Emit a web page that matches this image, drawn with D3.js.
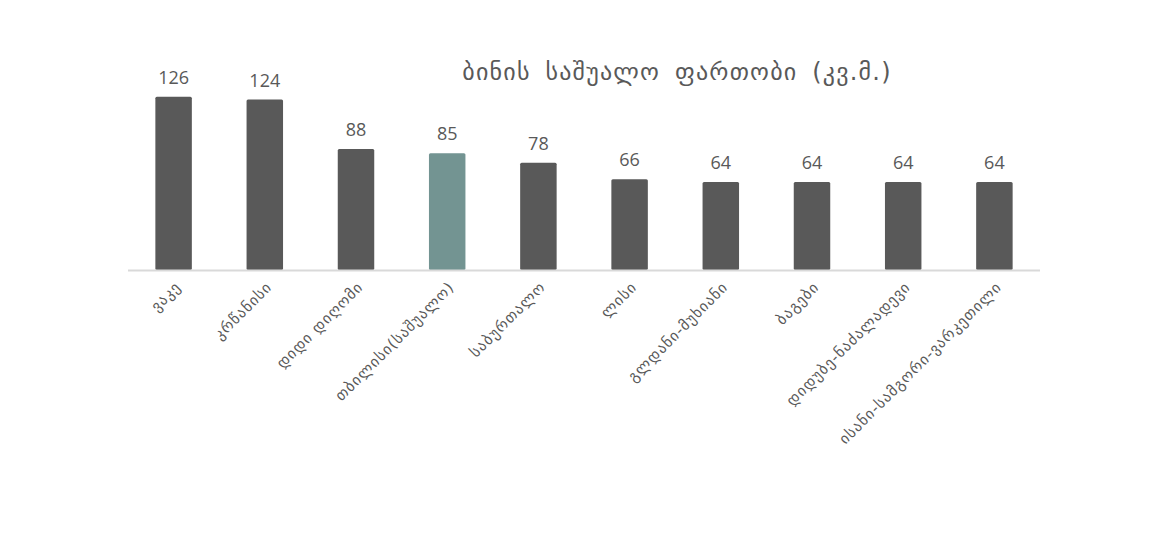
<!DOCTYPE html>
<html>
<head>
<meta charset="utf-8">
<script src="https://cdn.jsdelivr.net/npm/d3@7"></script>
<style>
  body { margin: 0; background: #fff; }
  svg text { font-family: "DejaVu Sans", sans-serif; fill: #595959; }
  .val { font-family: "Open Sans", sans-serif; }
</style>
</head>
<body>
<svg id="chart"></svg>
<script>
// Average apartment area by district (sq.m.)
const districts = ["ვაკე", "კრწანისი", "დიდი დიღომი", "თბილისი(საშუალო)", "საბურთალო",
  "ლისი", "გლდანი-მუხიანი", "ბაგები", "დიდუბე-ნაძალადევი", "ისანი-სამგორი-ვარკეთილი"];
const areas = [126, 124, 88, 85, 78, 66, 64, 64, 64, 64];
const highlight = ["თბილისი(საშუალო)"];
const title = "ბინის საშუალო ფართობი (კვ.მ.)";

const W = 1170, H = 533;
const C = { bar: "#595959", hi: "#739492", axis: "#d9d9d9" };
const base = 270;

const svg = d3.select("#chart").attr("width", W).attr("height", H);

const x = d3.scaleBand().domain(districts).range([128, 1040])
  .paddingInner(0.6).paddingOuter(0.3);
const y = d3.scaleLinear().domain([0, 140]).range([base, base - 192.5]);

const data = districts.map((d, i) => ({ name: d, v: areas[i] }));

// bars
svg.append("g").selectAll("rect").data(data).join("rect")
  .attr("x", d => x(d.name)).attr("y", d => y(d.v))
  .attr("width", x.bandwidth()).attr("height", d => y(0) - y(d.v))
  .attr("rx", 1.5)
  .attr("fill", d => highlight.includes(d.name) ? C.hi : C.bar);

// baseline
svg.append("line").attr("x1", 128).attr("x2", 1040)
  .attr("y1", base + 0.5).attr("y2", base + 0.5)
  .attr("stroke", C.axis).attr("stroke-width", 2);

// value labels
svg.append("g").selectAll("text").data(data).join("text")
  .attr("class", "val")
  .attr("x", d => x(d.name) + x.bandwidth() / 2)
  .attr("y", d => y(d.v) - 13)
  .attr("text-anchor", "middle")
  .style("font-size", "18px")
  .text(d => d.v);

// category labels, rotated
svg.append("g").selectAll("text").data(data).join("text")
  .attr("transform", d => `translate(${x(d.name) + x.bandwidth() / 2 + 8},${base + 18}) rotate(-45)`)
  .attr("text-anchor", "end")
  .style("font-size", "15px")
  .style("letter-spacing", "1px")
  .text(d => d.name);

// title
svg.append("text").attr("x", 677).attr("y", 80)
  .attr("text-anchor", "middle")
  .style("font-size", "24px")
  .style("letter-spacing", "1.2px")
  .style("word-spacing", "6px")
  .text(title);
</script>
</body>
</html>
